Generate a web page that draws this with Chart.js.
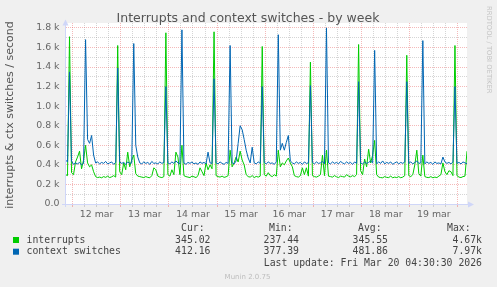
<!DOCTYPE html>
<html><head><meta charset="utf-8">
<script src="https://cdn.jsdelivr.net/npm/chart.js@4/dist/chart.umd.min.js"></script>
<style>html,body{margin:0;padding:0;background:#f0f0f0;}canvas{display:block;}</style>
</head><body>
<canvas id="c" width="497" height="287"></canvas>
<script>
// hourly samples, t = hours since Mar 11 20:30
const interrupts = [300,290,1710,320,300,430,480,540,360,450,600,420,380,400,330,280,270,275,268,280,272,285,270,278,290,275,
1620,330,300,420,350,530,380,450,500,310,285,280,275,270,280,272,268,290,370,350,285,275,270,280,
1750,300,285,350,300,530,480,300,600,290,280,275,270,285,278,270,290,370,330,290,420,350,400,360,
1760,290,280,275,285,272,278,290,550,380,420,480,430,540,450,400,300,280,275,290,270,282,275,285,
1610,300,285,320,290,280,300,285,550,380,420,400,440,470,420,380,290,280,275,290,370,300,370,285,
1450,290,280,275,285,300,500,290,550,285,280,275,290,278,270,285,280,275,300,285,278,290,280,300,
1630,340,300,460,380,560,420,500,650,300,275,270,268,280,272,270,285,268,275,270,280,268,275,290,
1520,290,280,300,400,550,310,285,500,280,272,270,280,268,275,270,285,300,420,330,300,340,330,290,
1620,290,275,270,280,285,540];
const contextSwitches = [450,430,1350,440,405,420,410,425,400,415,1680,660,620,700,500,420,430,410,425,415,435,410,420,430,405,425,
1390,430,415,425,405,430,415,420,1640,600,480,420,410,430,415,425,405,435,415,420,410,430,415,425,
1200,420,410,430,415,440,420,410,1780,420,405,425,415,430,410,420,405,430,415,425,410,530,420,415,
1280,420,410,430,415,405,425,415,1620,420,410,440,620,800,760,660,550,470,420,580,420,410,430,415,
1200,425,410,430,415,420,405,430,1730,550,620,550,630,700,440,420,410,430,415,425,405,430,415,420,
1210,425,410,430,415,420,435,410,1800,420,410,430,415,425,410,435,420,410,430,415,425,405,430,415,
1250,420,410,430,415,425,440,420,1570,410,430,415,440,410,425,415,430,405,420,430,410,425,415,430,
1250,415,430,410,425,440,415,420,1670,410,430,415,425,405,430,415,420,410,480,430,415,425,410,430,
1200,415,425,410,430,420,412];
const dayLabels = ["12 mar","13 mar","14 mar","15 mar","16 mar","17 mar","18 mar","19 mar"];
const xTickHours = [3.5,9.5,15.5,21.5,27.5,33.5,39.5,45.5,51.5,57.5,63.5,69.5,75.5,81.5,87.5,93.5,99.5,105.5,111.5,117.5,123.5,129.5,135.5,141.5,147.5,153.5,159.5,165.5,171.5,177.5,183.5,189.5,195.5];
const yTickValues = [0,100,200,300,400,500,600,700,800,900,1000,1100,1200,1300,1400,1500,1600,1700,1800];
const yTickLabels = ["0.0","0.2 k","0.4 k","0.6 k","0.8 k","1.0 k","1.2 k","1.4 k","1.6 k","1.8 k"];
const seriesNames = ["interrupts","context switches"];
const seriesColors = ["#00cc00","#0066b3"];
const curValues = ["345.02","412.16"];
const minValues = ["237.44","377.39"];
const avgValues = ["345.55","481.86"];
const maxValues = ["4.67k","7.97k"];
const titleText = "Interrupts and context switches - by week";
const yAxisTitle = "interrupts & ctx switches / second";
const lastUpdate = "Last update: Fri Mar 20 04:30:30 2026";
const footer = "Munin 2.0.75";
const sideText = "RRDTOOL / TOBI OETIKER";

const MGRID = 'rgba(230,100,100,0.45)';
const GRID = 'rgba(150,150,150,0.4)';
const AXIS = '#cfd6f8';

const hours = interrupts.map((_, i) => i);

const deco = {
  id: 'deco',
  beforeDraw(chart) {
    const c = chart.ctx, a = chart.chartArea;
    c.save();
    c.fillStyle = '#f0f0f0';
    c.fillRect(0, 0, chart.width, chart.height);
    c.fillStyle = '#ffffff';
    c.fillRect(a.left, a.top, a.right - a.left, a.bottom - a.top);
    c.restore();
  },
  afterDraw(chart) {
    const c = chart.ctx, a = chart.chartArea;
    c.save();
    // axes
    c.strokeStyle = AXIS; c.fillStyle = AXIS; c.lineWidth = 1;
    c.beginPath();
    c.moveTo(62, 204.5); c.lineTo(469, 204.5);
    c.moveTo(65.5, 207); c.lineTo(65.5, 24);
    c.stroke();
    c.beginPath();
    c.moveTo(474, 204.5); c.lineTo(468, 201.5); c.lineTo(468, 207.5); c.closePath(); c.fill();
    c.beginPath();
    c.moveTo(65.5, 19.5); c.lineTo(62.5, 25.5); c.lineTo(68.5, 25.5); c.closePath(); c.fill();

    // title
    c.fillStyle = '#555';
    c.textBaseline = 'middle';
    c.textAlign = 'center';
    c.font = '12.5px "DejaVu Sans"';
    c.fillText(titleText, 248, 19);

    // y axis title
    c.save();
    c.translate(10.5, 115);
    c.rotate(-Math.PI / 2);
    c.font = '11px "DejaVu Sans"';
    c.fillStyle = '#555';
    c.fillText(yAxisTitle, 0, 0);
    c.restore();

    // side text
    c.save();
    c.translate(489, 6);
    c.rotate(Math.PI / 2);
    c.textAlign = 'left';
    c.font = '6.8px "DejaVu Sans"';
    c.fillStyle = '#c4c4c4';
    c.fillText(sideText, 0, 0);
    c.restore();

    // legend
    c.font = '9.8px "DejaVu Sans Mono"';
    c.fillStyle = '#444';
    c.textAlign = 'left';
    c.fillText("Cur:", 181, 228.5);
    c.fillText("Min:", 269, 228.5);
    c.fillText("Avg:", 358, 228.5);
    c.fillText("Max:", 447, 228.5);
    const rows = [240, 251.7];
    for (let i = 0; i < seriesNames.length; i++) {
      const y = rows[i];
      c.fillStyle = seriesColors[i];
      c.fillRect(13, y - 3, 6, 6);
      c.fillStyle = '#444';
      c.textAlign = 'left';
      c.fillText(seriesNames[i], 26.5, y);
      c.textAlign = 'right';
      c.fillText(curValues[i], 210.5, y);
      c.fillText(minValues[i], 299, y);
      c.fillText(avgValues[i], 388, y);
      c.fillText(maxValues[i], 482, y);
    }
    c.textAlign = 'right';
    c.fillText(lastUpdate, 482, 263.5);
    c.textAlign = 'center';
    c.font = '7px "DejaVu Sans"';
    c.fillStyle = '#bdbdbd';
    c.fillText(footer, 247.5, 277);
    c.restore();
  }
};

new Chart(document.getElementById('c'), {
  type: 'line',
  data: {
    datasets: [
      { label: seriesNames[0], data: hours.map(i => ({ x: i, y: interrupts[i] })),
        borderColor: seriesColors[0], borderWidth: 1, pointRadius: 0, tension: 0, fill: false, order: 1 },
      { label: seriesNames[1], data: hours.map(i => ({ x: i, y: contextSwitches[i] })),
        borderColor: seriesColors[1], borderWidth: 1, pointRadius: 0, tension: 0, fill: false, order: 0 }
    ]
  },
  options: {
    responsive: false, animation: false, devicePixelRatio: 1,
    layout: { padding: { top: 23, right: 30, left: 0, bottom: 0 } },
    plugins: { legend: { display: false }, title: { display: false }, tooltip: { enabled: false } },
    scales: {
      x: {
        type: 'linear', min: 0, max: 200,
        afterBuildTicks: s => { s.ticks = xTickHours.map(v => ({ value: v })); },
        afterFit: s => { s.height = 83; },
        grid: {
          color: ctx => (ctx.index % 4 === 0 ? MGRID : GRID),
          tickColor: ctx => (ctx.index % 4 === 0 ? MGRID : GRID),
          lineWidth: 1, drawTicks: true, tickLength: 3
        },
        border: { display: false, dash: [1, 1] },
        ticks: {
          autoSkip: false, maxRotation: 0, minRotation: 0, padding: 2,
          callback: (v, i) => (i % 4 === 2 ? dayLabels[(i - 2) / 4] : ''),
          font: { family: 'DejaVu Sans', size: 9.4 }, color: '#666'
        }
      },
      y: {
        min: 0, max: 1850,
        afterBuildTicks: s => { s.ticks = yTickValues.map(v => ({ value: v })); },
        afterFit: s => { s.width = 65.5; },
        grid: {
          color: ctx => (ctx.index % 2 === 0 ? MGRID : GRID),
          lineWidth: 1, drawTicks: false
        },
        border: { display: false, dash: [1, 1] },
        ticks: {
          autoSkip: false, padding: 6,
          callback: (v, i) => (i % 2 === 0 ? yTickLabels[i / 2] : ''),
          font: { family: 'DejaVu Sans', size: 9.4 }, color: '#666'
        }
      }
    }
  },
  plugins: [deco]
});
</script>
</body></html>
